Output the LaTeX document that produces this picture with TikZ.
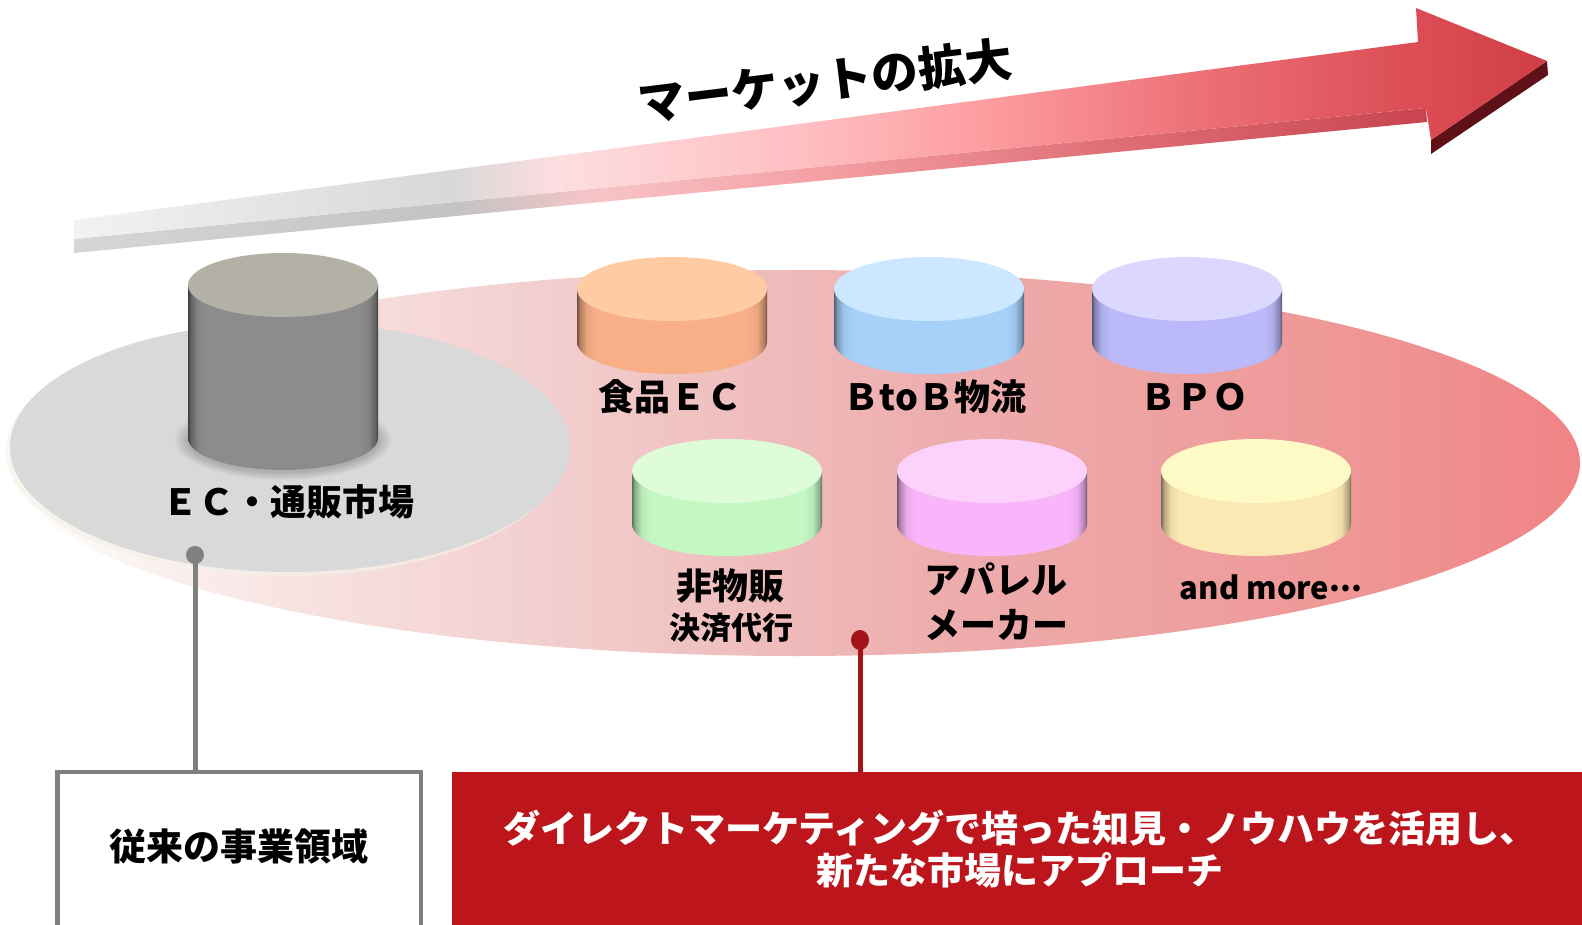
\documentclass[tikz,border=0pt]{standalone}
\usepackage{fontspec}
\newfontfamily\jp{Noto Sans CJK JP}
\definecolor{at0}{HTML}{F2F2F2}
\definecolor{at1}{HTML}{D8D8D8}
\definecolor{at2}{HTML}{FDDDE0}
\definecolor{at3}{HTML}{FFBFC2}
\definecolor{at4}{HTML}{FC9A9D}
\definecolor{at5}{HTML}{EC7076}
\definecolor{at6}{HTML}{DD4F57}
\definecolor{at7}{HTML}{D03E45}
\definecolor{as0}{HTML}{D6D6D6}
\definecolor{as1}{HTML}{C3C3C3}
\definecolor{as2}{HTML}{F7C4C7}
\definecolor{as3}{HTML}{F5A3A7}
\definecolor{as4}{HTML}{E07078}
\definecolor{as5}{HTML}{C8444F}
\definecolor{pe0}{HTML}{FFFFFF}
\definecolor{pe1}{HTML}{F8E6E4}
\definecolor{pe2}{HTML}{F2CDCD}
\definecolor{pe3}{HTML}{EDACAC}
\definecolor{pe4}{HTML}{EF9898}
\definecolor{pe5}{HTML}{F08385}
\definecolor{headside}{HTML}{5E1116}
\definecolor{grayell}{HTML}{D9D9D9}
\definecolor{ellshadow}{HTML}{F3F2E8}
\definecolor{linegray}{HTML}{808080}
\definecolor{linered}{HTML}{A51218}
\definecolor{boxred}{HTML}{BC161C}
\definecolor{otop}{HTML}{FECBA3}\definecolor{oside}{HTML}{F8AF87}
\definecolor{btop}{HTML}{CCE7FF}\definecolor{bside}{HTML}{A7D1F9}
\definecolor{ptop}{HTML}{DCD7FE}\definecolor{pside}{HTML}{BBB9F9}
\definecolor{gtop}{HTML}{DFFCD8}\definecolor{gside}{HTML}{C4F8C3}
\definecolor{mtop}{HTML}{FCD2FD}\definecolor{mside}{HTML}{F9B5F9}
\definecolor{ytop}{HTML}{FEFAC5}\definecolor{yside}{HTML}{FCE8B2}
\definecolor{ktop}{HTML}{B3B0A6}\definecolor{kside}{HTML}{8C8C8C}
\colorlet{cylside}{gray}
\pgfdeclarehorizontalshading{arrtop}{100bp}{color(0bp)=(at0); color(25bp)=(at0); color(37.8bp)=(at1); color(41.5bp)=(at2); color(49.6bp)=(at3); color(56.4bp)=(at4); color(63.2bp)=(at5); color(70bp)=(at6); color(75bp)=(at7); color(100bp)=(at7)}
\pgfdeclarehorizontalshading{arrside}{100bp}{color(0bp)=(as0); color(25bp)=(as0); color(38.9bp)=(as1); color(44.4bp)=(as2); color(51.8bp)=(as3); color(62.9bp)=(as4); color(75bp)=(as5); color(100bp)=(as5)}
\pgfdeclarehorizontalshading{pinkell}{100bp}{color(0bp)=(pe0); color(25bp)=(pe0); color(33bp)=(pe1); color(42.5bp)=(pe2); color(55bp)=(pe3); color(67bp)=(pe4); color(75bp)=(pe5); color(100bp)=(pe5)}
\pgfdeclarehorizontalshading[cylside]{cylshade}{100bp}{color(0bp)=(cylside!45!black); color(25bp)=(cylside!45!black); color(25.7bp)=(cylside!70!black); color(27.5bp)=(cylside!94!black); color(30bp)=(cylside); color(70bp)=(cylside); color(72.5bp)=(cylside!94!black); color(74.3bp)=(cylside!70!black); color(75bp)=(cylside!45!black); color(100bp)=(cylside!45!black)}
% cx, top centre y, body height, rx, ry, top colour, side colour
\newcommand\mycyl[7]{%
  \colorlet{cylside}{#7}%
  \shade[shading=cylshade] ({#1-#4},{-#2}) -- ({#1-#4},{-#2-#3}) arc[start angle=180,end angle=360,x radius=#4,y radius=#5] -- ({#1+#4},{-#2}) -- cycle;
  \fill[#6] (#1,{-#2}) ellipse[x radius=#4,y radius=#5];
}
\tikzset{
  lbl/.style={font=\jp\bfseries\fontsize{36}{40}\selectfont, inner sep=0pt},
  sublbl/.style={font=\jp\bfseries\fontsize{31}{36}\selectfont, inner sep=0pt},
}
\begin{document}
\begin{tikzpicture}[x=1pt,y=1pt]
\useasboundingbox (0,0) rectangle (1582,-924);
\clip (0,0) rectangle (1582,-924);
% big arrow
\shade[shading=arrside] (74,-239) -- (1426,-108) -- (1427,-122) -- (74,-253) -- cycle;
\fill[headside] (1547,-61) -- (1431,-140) -- (1431,-154) -- (1548,-75) -- cycle;
\shade[shading=arrtop] (74,-220) -- (1418,-42) -- (1416,-8) -- (1547,-61) -- (1431,-140) -- (1426,-108) -- (74,-239) -- cycle;
\node[font=\jp\bfseries\fontsize{47}{50}\selectfont, rotate=7, inner sep=0pt] (title) at (825,-81) {マーケットの拡大};
% market ellipses
\shade[shading=pinkell] (795,-463) ellipse[x radius=785,y radius=193];
\fill[ellshadow, opacity=0.7] (286,-451) ellipse[x radius=280,y radius=125];
\fill[grayell] (290,-447) ellipse[x radius=280,y radius=125];
% soft shadow at the base of the grey cylinder
\foreach \d in {1,2,...,14}
  \fill[black, opacity=0.012] (283,-440) ellipse[x radius={95+\d}, y radius={32+\d*0.6}];
% cylinders
\mycyl{283}{285}{153}{95}{32}{ktop}{kside}
\mycyl{672}{289}{53}{95}{32}{otop}{oside}
\mycyl{929}{289}{53}{95}{32}{btop}{bside}
\mycyl{1187}{289}{53}{95}{32}{ptop}{pside}
\mycyl{727}{471}{53}{95}{32}{gtop}{gside}
\mycyl{992}{471}{53}{95}{32}{mtop}{mside}
\mycyl{1256}{471}{53}{95}{32}{ytop}{yside}
% labels
\node[lbl] (ec) at (288,-502) {ＥＣ・通販市場};
\node[lbl] (food) at (670,-397) {食品ＥＣ};
\node[lbl] (btob) at (935,-397) {ＢtoＢ物流};
\node[lbl] (bpo) at (1194,-397) {ＢＰＯ};
\node[lbl] (hibuppan) at (730,-586) {非物販};
\node[sublbl] (kessai) at (731,-628) {決済代行};
\node[lbl] (apparel) at (996,-579) {アパレル};
\node[lbl] (maker) at (996,-625) {メーカー};
\node[sublbl] (more) at (1271,-587) {and more\raisebox{0.24em}{...}};
% boxes
\node[draw=linegray, line width=4.5pt, fill=white, minimum width=363.5pt, minimum height=220pt, anchor=north west, inner sep=0pt, outer sep=0pt] (oldbox) at (57.6,-772) {};
\node[font=\jp\bfseries\fontsize{37}{42}\selectfont, inner sep=0pt] (oldtext) at (239,-847) {従来の事業領域};
\node[fill=boxred, minimum width=1160pt, minimum height=220pt, anchor=north west, inner sep=0pt, outer sep=0pt] (newbox) at (452,-772) {};
\node[font=\jp\bfseries\fontsize{37}{42}\selectfont, text=white, align=center, inner sep=0pt] (newtext) at (1020,-849) {ダイレクトマーケティングで培った知見・ノウハウを活用し、\\新たな市場にアプローチ};
% connectors
\coordinate (gdot) at (195,-555);
\coordinate (rdot) at (860,-640);
\draw[linegray, line width=5pt] (gdot) -- (gdot |- oldbox.north);
\fill[linegray] (gdot) circle[radius=9];
\draw[linered, line width=5pt] (rdot) -- (rdot |- newbox.north);
\fill[linered] (rdot) ellipse[x radius=9, y radius=10];
\end{tikzpicture}
\end{document}
